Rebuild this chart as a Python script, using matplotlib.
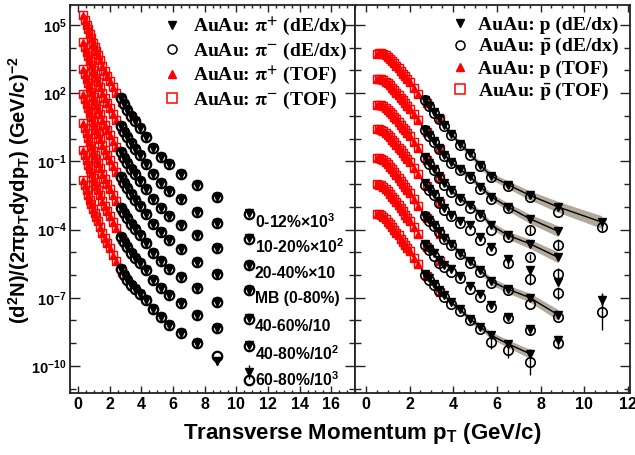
import numpy as np
import matplotlib
matplotlib.use('Agg')
import matplotlib.pyplot as plt
from matplotlib.ticker import FixedLocator, MultipleLocator, FuncFormatter, NullFormatter
from matplotlib.lines import Line2D
from matplotlib.font_manager import FontProperties

plt.rcParams['font.family'] = ['Liberation Sans', 'DejaVu Sans']
plt.rcParams['mathtext.fontset'] = 'custom'
plt.rcParams['mathtext.rm'] = 'Liberation Sans:bold'
plt.rcParams['mathtext.bf'] = 'Liberation Sans:bold'
plt.rcParams['mathtext.it'] = 'Liberation Sans:bold:italic'
plt.rcParams['mathtext.sf'] = 'Liberation Sans:bold'
plt.rcParams['mathtext.default'] = 'bf'

nan = np.nan

# ---------------- data (log10 of yield) ----------------
centrality_labels = ['0-12%×10$^{3}$', '10-20%×10$^{2}$', '20-40%×10', 'MB (0-80%)',
                     '40-60%/10', '40-80%/10$^{2}$', '60-80%/10$^{3}$']

# pions, TOF
pion_tof_pt = [0.35, 0.45, 0.55, 0.65, 0.75, 0.85, 0.95, 1.05, 1.15, 1.25, 1.4, 1.55, 1.7,
               1.85, 2.0, 2.2, 2.4, 2.8, 3.4]
pion_tof_plus_log10 = [
    [5.44, 5.22, 5.01, 4.81, 4.61, 4.42, 4.23, 4.05, 3.87, 3.70, 3.45, 3.21, 2.98, 2.76, 2.55, 2.28, 2.02, 1.62, 0.97],
    [4.25, 4.03, 3.82, 3.62, 3.42, 3.23, 3.04, 2.86, 2.68, 2.51, 2.26, 2.02, 1.79, 1.57, 1.36, 1.09, 0.83, 0.44, -0.25],
    [3.06, 2.84, 2.63, 2.43, 2.23, 2.04, 1.85, 1.67, 1.49, 1.32, 1.07, 0.83, 0.60, 0.38, 0.17, -0.10, -0.36, -0.70, -1.38],
    [1.96, 1.74, 1.53, 1.33, 1.13, 0.94, 0.75, 0.57, 0.39, 0.22, -0.03, -0.27, -0.50, -0.72, -0.93, -1.20, -1.46, -1.83, -2.50],
    [0.68, 0.46, 0.25, 0.05, -0.15, -0.34, -0.53, -0.71, -0.89, -1.06, -1.31, -1.55, -1.78, -2.00, -2.21, -2.48, -2.74, -3.16, -3.81],
    [-0.51, -0.73, -0.94, -1.14, -1.34, -1.53, -1.72, -1.90, -2.08, -2.25, -2.50, -2.74, -2.97, -3.19, -3.40, -3.67, -3.93, -4.43, -5.07],
    [-1.83, -2.06, -2.28, -2.49, -2.69, -2.89, -3.08, -3.27, -3.45, -3.63, -3.89, -4.14, -4.38, -4.61, -4.83, -5.11, -5.38, -5.87, -6.50],
]
# pi- TOF coincides with pi+ TOF within marker size
pion_tof_minus_log10 = [list(r) for r in pion_tof_plus_log10]

# pions, dE/dx
dedx_pt = [2.7, 2.9, 3.1, 3.35, 3.6, 3.9, 4.3, 4.75, 5.25, 5.75, 6.5, 7.5, 8.8, 10.8]
pion_dedx_plus_log10 = [
    [1.78, 1.52, 1.28, 1.00, 0.76, 0.45, 0.07, -0.40, -0.80, -1.13, -1.55, -2.05, -2.58, -3.28],
    [0.57, 0.31, 0.08, -0.20, -0.44, -0.74, -1.11, -1.57, -1.96, -2.29, -2.67, -3.24, -3.72, -4.38],
    [-0.57, -0.83, -1.06, -1.33, -1.57, -1.86, -2.22, -2.66, -3.05, -3.40, -3.81, -4.25, -4.82, -5.57],
    [-1.70, -1.96, -2.18, -2.45, -2.68, -2.96, -3.31, -3.74, -4.12, -4.47, -4.87, -5.44, -5.97, -6.67],
    [-3.04, -3.29, -3.51, -3.77, -3.99, -4.26, -4.59, -5.01, -5.38, -5.72, -6.10, -6.59, -7.20, -7.91],
    [-4.31, -4.56, -4.77, -5.03, -5.24, -5.49, -5.80, -6.20, -6.56, -6.90, -7.25, -7.78, -8.35, -9.10],
    [-5.75, -6.00, -6.20, -6.45, -6.63, -6.85, -7.11, -7.48, -7.86, -8.22, -8.57, -9.01, -9.80, -10.27],
]
pion_dedx_minus_log10 = [
    [1.78, 1.52, 1.28, 1.00, 0.76, 0.45, 0.07, -0.40, -0.80, -1.13, -1.55, -2.05, -2.58, -3.30],
    [0.57, 0.31, 0.08, -0.20, -0.44, -0.74, -1.11, -1.57, -1.96, -2.29, -2.67, -3.24, -3.72, -4.40],
    [-0.57, -0.83, -1.06, -1.33, -1.57, -1.86, -2.22, -2.66, -3.05, -3.40, -3.81, -4.25, -4.82, -5.57],
    [-1.70, -1.96, -2.18, -2.45, -2.68, -2.96, -3.31, -3.74, -4.12, -4.47, -4.87, -5.44, -5.97, -6.67],
    [-3.04, -3.29, -3.51, -3.77, -3.99, -4.26, -4.59, -5.01, -5.38, -5.72, -6.10, -6.59, -7.20, -7.93],
    [-4.31, -4.56, -4.77, -5.03, -5.24, -5.49, -5.80, -6.20, -6.56, -6.90, -7.25, -7.78, -8.35, -9.12],
    [-5.75, -6.00, -6.20, -6.45, -6.63, -6.85, -7.11, -7.48, -7.86, -8.22, -8.57, -9.01, -9.55, -10.62],
]
# (centrality bin, dE/dx point index, half error in decades)
pion_errors = [(6, 12, 0.15), (6, 13, 0.3), (5, 13, 0.12)]

# protons, TOF
proton_tof_pt = [0.5, 0.6, 0.7, 0.8, 0.9, 1.0, 1.1, 1.2, 1.3, 1.4, 1.5, 1.6, 1.7, 1.8, 1.9,
                 2.0, 2.2, 2.4, 2.8, 3.4]
proton_tof_log10 = [
    [3.74, 3.77, 3.78, 3.74, 3.66, 3.58, 3.49, 3.40, 3.31, 3.21, 3.10, 2.98, 2.86, 2.74, 2.62, 2.50, 2.25, 1.98, 1.56, 0.85],
    [2.61, 2.63, 2.62, 2.58, 2.51, 2.43, 2.34, 2.24, 2.14, 2.03, 1.92, 1.80, 1.68, 1.56, 1.44, 1.32, 1.07, 0.80, 0.28, -0.45],
    [1.48, 1.49, 1.47, 1.42, 1.35, 1.27, 1.17, 1.07, 0.96, 0.85, 0.73, 0.61, 0.49, 0.36, 0.23, 0.10, -0.16, -0.43, -0.95, -1.71],
    [0.41, 0.41, 0.38, 0.32, 0.25, 0.16, 0.06, -0.05, -0.16, -0.28, -0.40, -0.52, -0.65, -0.78, -0.91, -1.04, -1.30, -1.57, -2.08, -2.81],
    [-0.83, -0.84, -0.88, -0.95, -1.03, -1.13, -1.24, -1.35, -1.47, -1.59, -1.72, -1.85, -1.98, -2.12, -2.26, -2.40, -2.67, -2.95, -3.50, -4.20],
    [-2.00, -2.02, -2.06, -2.13, -2.22, -2.32, -2.43, -2.55, -2.67, -2.80, -2.93, -3.06, -3.20, -3.34, -3.48, -3.62, -3.90, -4.18, -4.75, -5.37],
    [-3.30, -3.33, -3.38, -3.46, -3.55, -3.65, -3.76, -3.88, -4.00, -4.13, -4.26, -4.40, -4.54, -4.68, -4.82, -4.96, -5.24, -5.52, -6.05, -6.75],
]
# pbar TOF coincides with p TOF within marker size
pbar_tof_log10 = [list(r) for r in proton_tof_log10]

# protons, dE/dx
proton_dedx_log10 = [
    [1.70, 1.45, 1.18, 0.90, 0.58, 0.22, -0.22, -0.65, -1.17, -1.65, -2.02, -2.49, -3.00, -3.67],
    [0.40, 0.15, -0.10, -0.40, -0.70, -1.02, -1.35, -1.65, -2.12, -2.56, -3.00, -3.52, -4.07, nan],
    [-0.82, -1.08, -1.35, -1.65, -1.95, -2.28, -2.62, -2.93, -3.30, -3.81, -4.25, -4.62, -5.22, nan],
    [-1.95, -2.20, -2.45, -2.75, -3.05, -3.35, -3.62, -3.80, -4.33, -4.77, -5.30, -5.79, -6.32, -7.11],
    [-3.40, -3.59, -3.80, -4.08, -4.35, -4.63, -5.02, -5.40, -5.79, -6.28, -6.62, -6.99, -7.75, nan],
    [-4.65, -4.85, -5.05, -5.35, -5.55, -5.75, -6.03, -6.47, -6.85, -7.33, -7.85, -8.36, -8.88, nan],
    [-5.95, -6.15, -6.40, -6.65, -6.90, -7.20, -7.50, -7.92, -8.29, -8.66, -9.02, -9.46, nan, nan],
]
pbar_dedx_log10 = [
    [1.68, 1.42, 1.15, 0.86, 0.55, 0.18, -0.26, -0.70, -1.20, -1.70, -2.08, -2.56, -3.22, -3.88],
    [0.38, 0.12, -0.14, -0.44, -0.75, -1.07, -1.40, -1.72, -2.20, -2.65, -3.07, -4.03, -4.66, nan],
    [-0.85, -1.12, -1.40, -1.72, -2.02, -2.36, -2.72, -3.05, -3.42, -4.00, -4.33, -5.21, -5.97, nan],
    [-2.02, -2.25, -2.50, -2.82, -3.12, -3.42, -3.72, -4.03, -4.47, -4.91, -5.45, -6.19, -6.81, -7.63],
    [-3.42, -3.62, -3.84, -4.12, -4.40, -4.68, -5.08, -5.45, -5.85, -6.33, -6.66, -7.26, -7.86, nan],
    [-4.70, -4.92, -5.15, -5.45, -5.65, -5.85, -6.15, -6.60, -6.97, -7.41, -7.90, -8.44, -9.00, nan],
    [-5.98, -6.20, -6.45, -6.72, -6.97, -7.27, -7.58, -8.00, -8.38, -8.95, -9.32, -9.83, nan, nan],
]
proton_errors = [(0, 13, 0.12), (1, 12, 0.12), (2, 12, 0.12), (3, 13, 0.3), (4, 12, 0.15), (6, 11, 0.2)]
pbar_errors = [(0, 13, 0.2), (1, 11, 0.2), (1, 12, 0.25), (2, 11, 0.15), (2, 12, 0.3),
               (3, 10, 0.2), (3, 11, 0.25), (3, 12, 0.3), (3, 13, 0.8), (5, 11, 0.2), (5, 12, 0.25),
               (6, 9, 0.3), (6, 10, 0.35), (6, 11, 0.55)]

# combined proton curve with systematic band (bins that carry a curve)
curve_bins = [0, 1, 2, 4, 6]
band_half_tof = [0.12, 0.08, 0.06, 0.05, 0.05, 0.05, 0.05, 0.05, 0.05, 0.05, 0.05, 0.05,
                 0.05, 0.05, 0.06, 0.06, 0.06, 0.07]
band_half_dedx = [0.08, 0.09, 0.10, 0.10, 0.11, 0.11, 0.12, 0.13, 0.14, 0.15, 0.17, 0.20, 0.24, 0.28]

# ---------------- figure ----------------
W, H = 635, 455
fig = plt.figure(figsize=(W / 100, H / 100), dpi=100)
ax1 = fig.add_axes([70 / W, 1 - 393 / H, 285 / W, 388 / H])
ax2 = fig.add_axes([355 / W, 1 - 393 / H, 275 / W, 388 / H])

RED = '#ff0000'
tick_fmt = FuncFormatter(lambda v, p: r'$\mathbf{10^{%d}}$' % int(round(np.log10(v))))

for ax, xmax in ((ax1, 17.5), (ax2, 12.1)):
    ax.set_yscale('log')
    ax.set_ylim(10 ** -11.19, 10 ** 5.88)
    ax.set_xlim(-0.5, xmax)
    ax.yaxis.set_major_locator(FixedLocator([10.0 ** e for e in range(-10, 6, 3)]))
    ax.yaxis.set_minor_locator(FixedLocator([10.0 ** e for e in range(-11, 6)]))
    ax.yaxis.set_minor_formatter(NullFormatter())
    ax.xaxis.set_major_locator(MultipleLocator(2))
    ax.xaxis.set_minor_locator(MultipleLocator(0.5))
    ax.tick_params(which='both', direction='in', top=True, right=True, width=1.0, colors='#222222')
    ax.tick_params(axis='y', which='major', length=7.5)
    ax.tick_params(axis='y', which='minor', length=4.5)
    ax.tick_params(axis='x', which='major', length=5, pad=3)
    ax.tick_params(axis='x', which='minor', length=2.5)
    ax.tick_params(axis='x', labelsize=11.5, labelcolor='black')
    for s in ax.spines.values():
        s.set_linewidth(1.3)
        s.set_color('#222222')

ax1.yaxis.set_major_formatter(tick_fmt)
ax1.tick_params(axis='y', labelsize=10.5, pad=2.5, labelcolor='black')
ax2.tick_params(axis='y', which='both', labelleft=False)
for ax in (ax1, ax2):
    for lab in ax.get_xticklabels():
        lab.set_fontweight('bold')


def L(v):
    return 10.0 ** np.asarray(v, dtype=float)


def err_bars(ax, pts, vals, errs):
    for (k, i, e) in errs:
        v = vals[k][i]
        ax.vlines(pts[i], 10 ** (v - e), 10 ** (v + e), color='k', lw=1.0, zorder=4)


# ---- left: pions ----
for k in range(7):
    ax1.plot(pion_tof_pt, L(pion_tof_plus_log10[k]), ls='none', marker='^', ms=4.5,
             color=RED, mec=RED, zorder=3)
    ax1.plot(pion_tof_pt, L(pion_tof_minus_log10[k]), ls='none', marker='s', ms=6.2,
             mfc='none', mec=RED, mew=1.0, zorder=3)
    ax1.plot(dedx_pt, L(pion_dedx_minus_log10[k]), ls='none', marker='o', ms=6.8,
             mfc='white', mec='k', mew=1.6, zorder=4)
    ax1.plot(dedx_pt, L(pion_dedx_plus_log10[k]), ls='none', marker='v', ms=5.6,
             color='k', zorder=5)
    ax1.annotate(centrality_labels[k], xy=(dedx_pt[-1], 10 ** pion_dedx_plus_log10[k][-1]),
                 xytext=(6, -8), textcoords='offset pixels', fontsize=11.3,
                 fontweight='bold', ha='left', va='center')
err_bars(ax1, dedx_pt, pion_dedx_plus_log10, pion_errors)

# ---- right: protons ----
for k in range(7):
    if k in curve_bins:
        n_tof = 18
        cx = list(proton_tof_pt[:n_tof]) + list(dedx_pt)
        cy = np.array(list(proton_tof_log10[k][:n_tof]) + list(proton_dedx_log10[k]))
        hw = np.array(band_half_tof + band_half_dedx)
        ok = ~np.isnan(cy)
        cx = np.array(cx)[ok]
        cy = cy[ok]
        hw = hw[ok]
        ax2.fill_between(cx, L(cy - hw), L(cy + hw), color='#b3a89c', lw=0, zorder=1)
        ax2.plot(cx, L(cy), color='k', lw=1.0, zorder=2)
    ax2.plot(proton_tof_pt, L(proton_tof_log10[k]), ls='none', marker='^', ms=4.5,
             color=RED, mec=RED, zorder=3)
    ax2.plot(proton_tof_pt, L(pbar_tof_log10[k]), ls='none', marker='s', ms=6.2,
             mfc='none', mec=RED, mew=1.0, zorder=3)
    ax2.plot(dedx_pt, L(pbar_dedx_log10[k]), ls='none', marker='o', ms=6.8,
             mfc='none', mec='k', mew=1.2, zorder=4)
    ax2.plot(dedx_pt, L(proton_dedx_log10[k]), ls='none', marker='v', ms=5.4,
             color='k', zorder=5)
err_bars(ax2, dedx_pt, proton_dedx_log10, proton_errors)
err_bars(ax2, dedx_pt, pbar_dedx_log10, pbar_errors)

# ---- legends ----
legfont = FontProperties(family='Liberation Serif', weight='bold', size=14)


def make_handles():
    return [Line2D([], [], ls='none', marker='v', color='k', ms=5.5),
            Line2D([], [], ls='none', marker='o', mfc='none', mec='k', mew=1.1, ms=6.5),
            Line2D([], [], ls='none', marker='^', color=RED, ms=5.5),
            Line2D([], [], ls='none', marker='s', mfc='none', mec=RED, mew=1.1, ms=6.5)]


pion_leg_labels = ['AuAu: $\\mathbf{\\pi^{+}}$ (dE/dx)', 'AuAu: $\\mathbf{\\pi^{-}}$ (dE/dx)',
                   'AuAu: $\\mathbf{\\pi^{+}}$ (TOF)', 'AuAu: $\\mathbf{\\pi^{-}}$ (TOF)']
proton_leg_labels = ['AuAu: p (dE/dx)', 'AuAu: $\\mathbf{\\bar{p}}$ (dE/dx)',
                     'AuAu: p (TOF)', 'AuAu: $\\mathbf{\\bar{p}}$ (TOF)']

leg1 = ax1.legend(make_handles(), pion_leg_labels, loc='upper left', bbox_to_anchor=(0.323, 0.972),
                  frameon=False, prop=legfont, handlelength=1.0, handletextpad=0.6,
                  labelspacing=0.14, borderpad=0, borderaxespad=0)
leg2 = ax2.legend(make_handles(), proton_leg_labels, loc='upper left', bbox_to_anchor=(0.3465, 0.972),
                  frameon=False, prop=legfont, handlelength=1.0, handletextpad=0.45,
                  labelspacing=0.14, borderpad=0, borderaxespad=0)
for leg in (leg1, leg2):
    for t in leg.get_texts():
        t.set_math_fontfamily('stix')

# ---- axis titles ----
fig.text(362 / W, 1 - 433 / H, 'Transverse Momentum $p_{T}$ (GeV/c)', fontsize=16,
         fontweight='bold', ha='center', va='center')
fig.text(19 / W, 1 - 190 / H, r'$(d^{2}N)/(2\pi p_{T}dydp_{T})\ (GeV/c)^{-2}$', fontsize=14.5,
         rotation=90, ha='center', va='center')

fig.savefig('out.png', dpi=100)
